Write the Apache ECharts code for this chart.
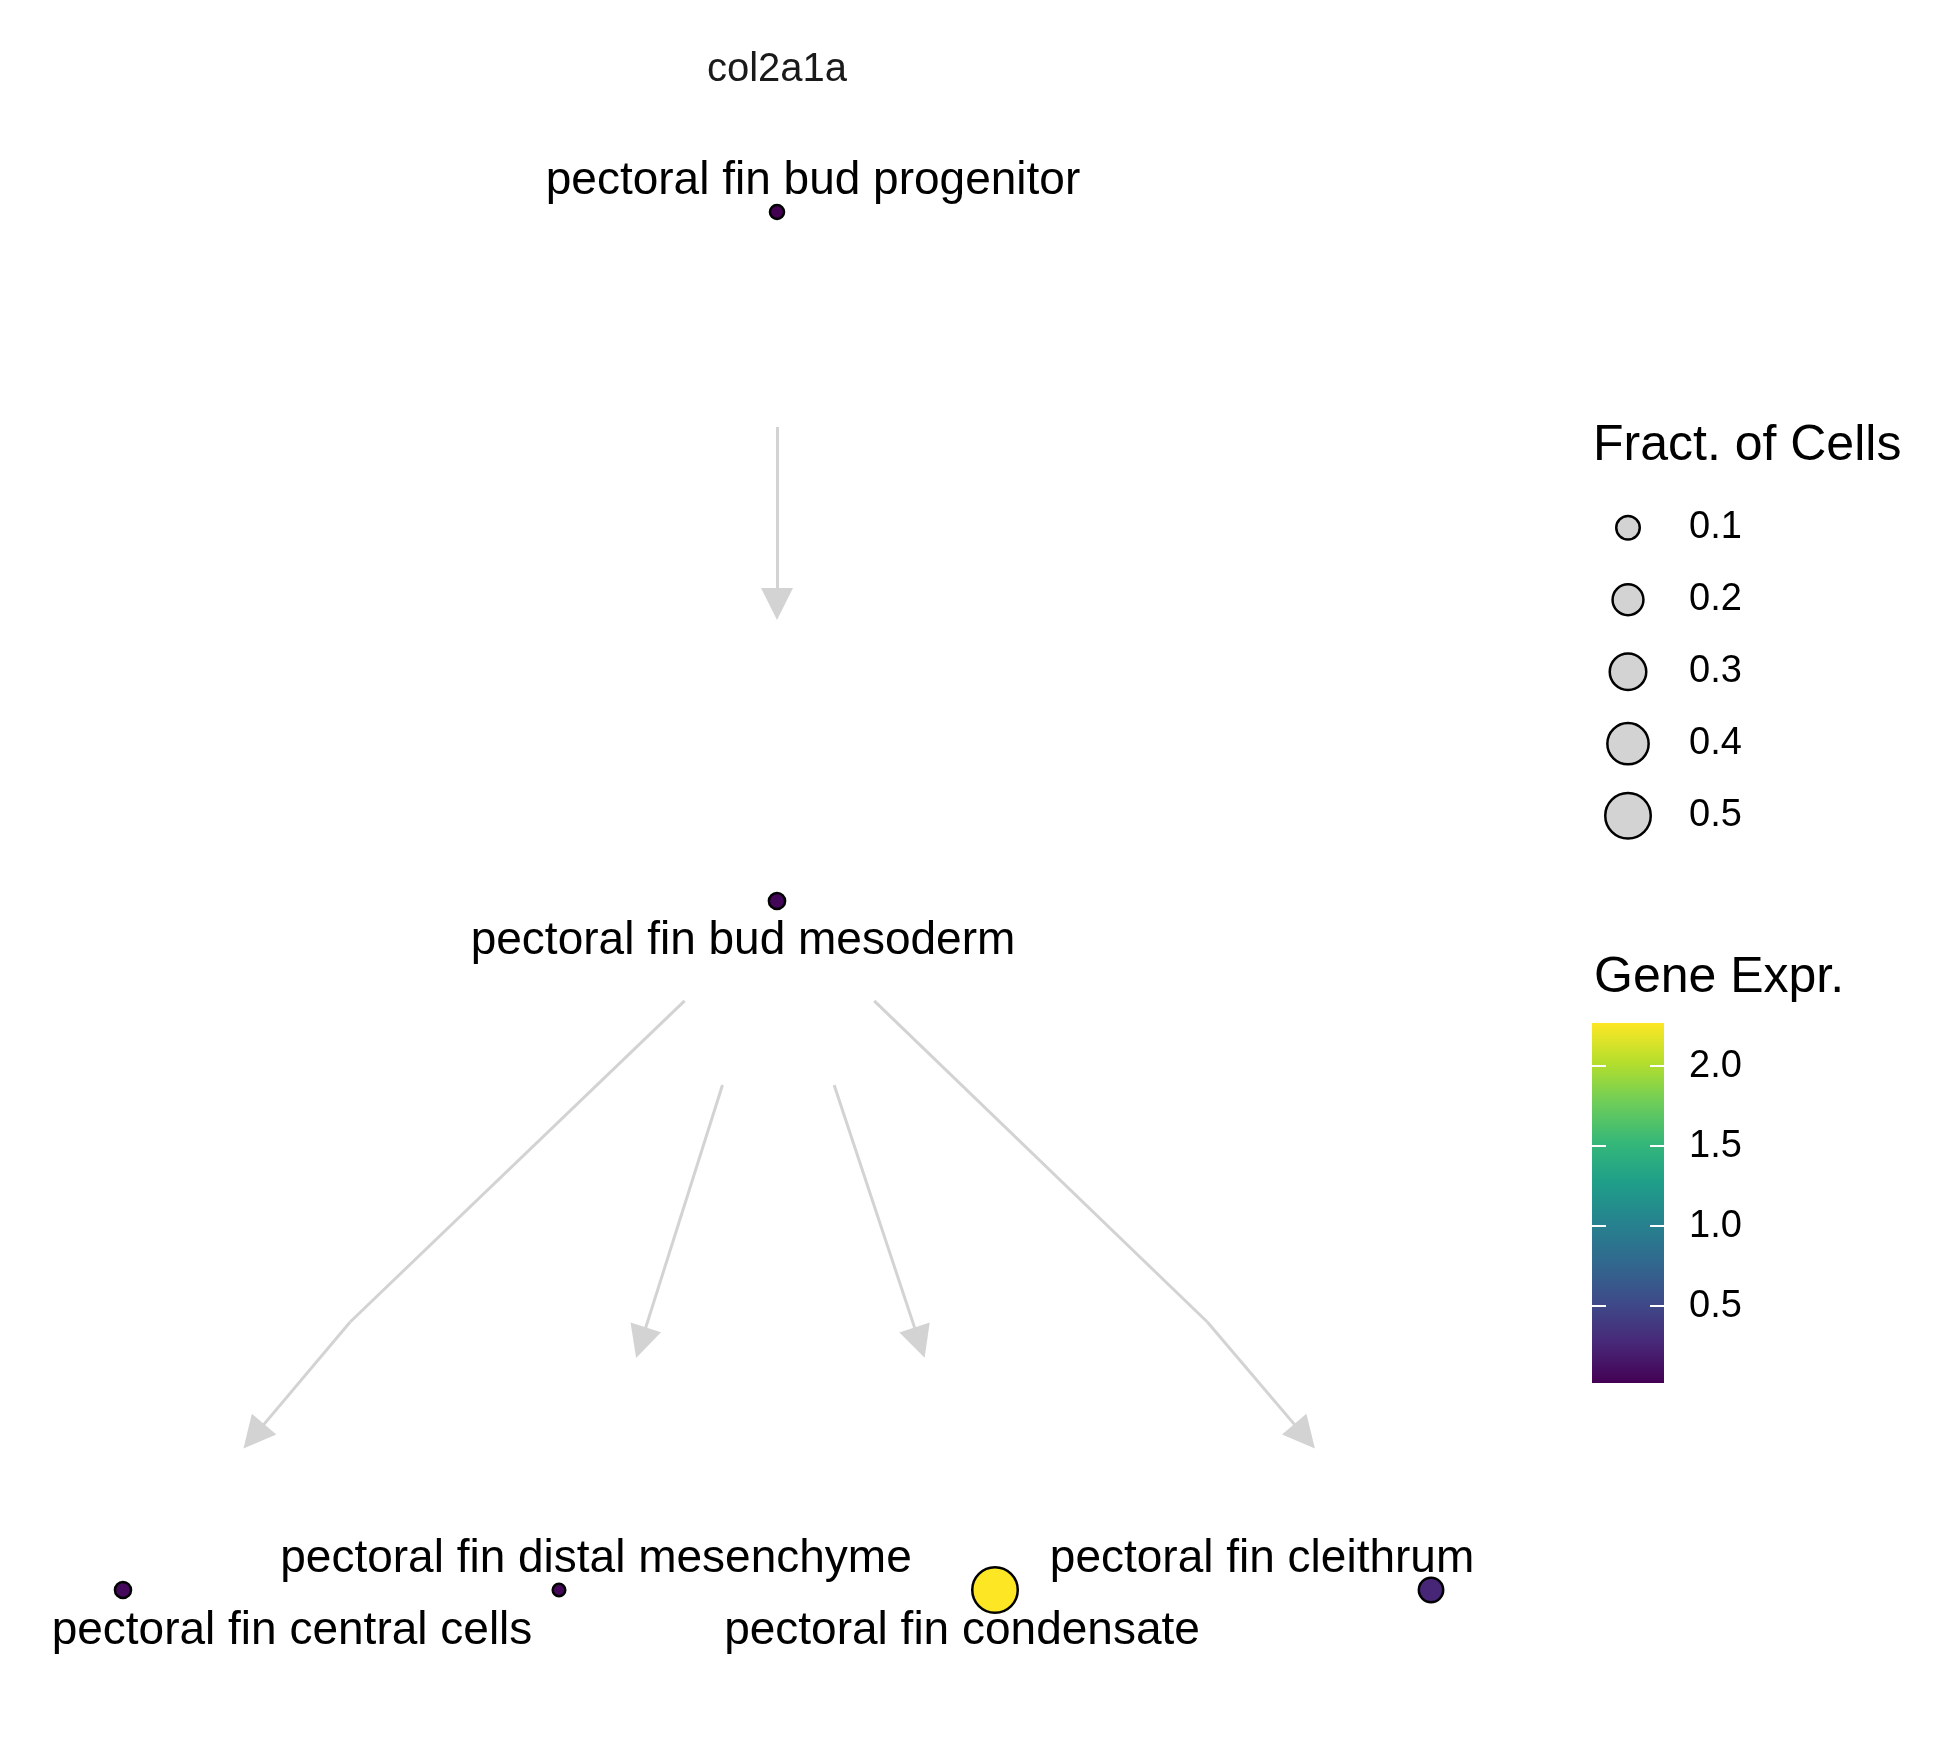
<!DOCTYPE html>
<html><head><meta charset="utf-8">
<script src="https://cdn.jsdelivr.net/npm/echarts@6/dist/echarts.min.js"></script>
<style>html,body{margin:0;padding:0;background:#fff}#c{width:1950px;height:1737px}</style>
</head><body><div id="c"></div>
<script>
// ---------- data ----------
const chartTitle = 'col2a1a';
const nodeNames = ['pectoral fin bud progenitor', 'pectoral fin bud mesoderm', 'pectoral fin central cells',
  'pectoral fin distal mesenchyme', 'pectoral fin condensate', 'pectoral fin cleithrum'];
const nodeX = [0, 0, -1.5, -0.5, 0.5, 1.5];      // tree layout position
const nodeY = [2, 1, 0, 0, 0, 0];                 // tree layout level
const fracCells = [0.022, 0.035, 0.034, 0.015, 0.50, 0.11];
const geneExpr = [0.02, 0.05, 0.07, 0.06, 2.27, 0.26];
// edge paths (layout units), last point = arrow head
const edgePaths = [
  [[0, 1.688], [0, 1.431]],
  [[-0.212, 0.855], [-0.979, 0.389], [-1.200, 0.223]],
  [[-0.125, 0.733], [-0.312, 0.359]],
  [[0.131, 0.733], [0.327, 0.359]],
  [[0.223, 0.855], [0.987, 0.389], [1.210, 0.223]]
];
const sizeLegendValues = [0.1, 0.2, 0.3, 0.4, 0.5];
const colorTicks = [0.5, 1.0, 1.5, 2.0];
const exprMin = 0.02, exprMax = 2.27;
const sizeTitle = 'Fract. of Cells';
const colorTitle = 'Gene Expr.';

// ---------- styles ----------
const labelOffsets = [[36, -31], [-34, 40], [169, 41], [37, -31], [-33, 41], [-169, -31]];
const viridis = ['#440154', '#482878', '#3E4A89', '#31688E', '#26828E', '#1F9E89', '#35B779', '#6DCD59', '#B4DE2C', '#FDE725'];
const FONT = 'Liberation Sans';
const BW = 2.5;
const sizeFn = f => 56.3 * Math.sqrt(f) + 8.2 - BW;

const lineData = [];
edgePaths.forEach(p => {
  for (let i = 0; i < p.length - 1; i++) {
    const last = i === p.length - 2;
    lineData.push({ coords: [p[i], p[i + 1]], symbol: last ? ['none', 'triangle'] : ['none', 'none'] });
  }
});

const nodeData = nodeNames.map((n, i) => ({
  name: n,
  value: [nodeX[i], nodeY[i], fracCells[i], geneExpr[i]],
  label: { offset: labelOffsets[i] }
}));

const chart = echarts.init(document.getElementById('c'), null, { renderer: 'canvas' });
chart.setOption({
  backgroundColor: '#fff',
  animation: false,
  textStyle: { fontFamily: FONT },
  title: [
    { text: chartTitle, left: 772, top: 45, textAlign: 'center',
      textStyle: { fontSize: 40, lineHeight: 40, fontWeight: 'normal', color: '#1a1a1a', fontFamily: FONT } },
    { text: sizeTitle, left: 1588, top: 416.5,
      textStyle: { fontSize: 50, lineHeight: 50, fontWeight: 'normal', color: '#000', fontFamily: FONT } },
    { text: colorTitle, left: 1589, top: 948.5,
      textStyle: { fontSize: 50, lineHeight: 50, fontWeight: 'normal', color: '#000', fontFamily: FONT } }
  ],
  grid: [
    { left: 0.9, top: 5.3, width: 1552.2, height: 1722.5 },
    { left: 1592, top: 1023, width: 72, height: 360 },
    { left: 1600, top: 491.7, width: 56, height: 360 }
  ],
  xAxis: [
    { gridIndex: 0, type: 'value', min: -1.78, max: 1.78, show: false },
    { gridIndex: 1, type: 'value', min: 0, max: 1, show: false },
    { gridIndex: 2, type: 'value', min: 0, max: 1, show: false }
  ],
  yAxis: [
    { gridIndex: 0, type: 'value', min: -0.2, max: 2.3, show: false },
    { gridIndex: 1, type: 'value', min: exprMin, max: exprMax, position: 'left', z: 10,
      axisLine: { show: false }, splitLine: { show: false }, axisLabel: { show: false },
      axisTick: { show: true, inside: true, length: 14, lineStyle: { color: '#fff', width: 2 }, customValues: colorTicks } },
    { gridIndex: 1, type: 'value', min: exprMin, max: exprMax, position: 'right', z: 10,
      axisLine: { show: false }, splitLine: { show: false },
      axisTick: { show: true, inside: true, length: 14, lineStyle: { color: '#fff', width: 2 }, customValues: colorTicks },
      axisLabel: { show: true, customValues: colorTicks, margin: 25, fontSize: 38, color: '#000', fontFamily: FONT,
        padding: [5, 0, 0, 0], formatter: v => Number(v).toFixed(1) } },
    { gridIndex: 2, type: 'category', data: sizeLegendValues.map(v => v.toFixed(1)), inverse: true, position: 'right',
      axisLine: { show: false }, axisTick: { show: false }, splitLine: { show: false },
      axisLabel: { margin: 33, fontSize: 38, color: '#000', fontFamily: FONT, align: 'left', padding: [5, 0, 0, 0] } }
  ],
  visualMap: {
    show: false, type: 'continuous', min: exprMin, max: exprMax, dimension: 3, seriesIndex: 1,
    inRange: { color: viridis }
  },
  series: [
    {
      type: 'lines', coordinateSystem: 'cartesian2d', xAxisIndex: 0, yAxisIndex: 0,
      data: lineData, symbolSize: 32, silent: true, z: 1,
      lineStyle: { color: '#d3d3d3', width: 3, opacity: 1 }
    },
    {
      type: 'scatter', xAxisIndex: 0, yAxisIndex: 0, data: nodeData, z: 5,
      symbol: 'circle', symbolSize: v => sizeFn(v[2]),
      itemStyle: { borderColor: '#000', borderWidth: BW, opacity: 1 },
      label: { show: true, position: 'inside', formatter: p => p.name, fontSize: 46, color: '#000',
        fontFamily: FONT, align: 'center', verticalAlign: 'middle' }
    },
    {
      type: 'custom', xAxisIndex: 1, yAxisIndex: 1, data: [[0]], silent: true, z: 1,
      renderItem: (params, api) => {
        const p0 = api.coord([0, exprMax]);
        const p1 = api.coord([1, exprMin]);
        return {
          type: 'rect',
          shape: { x: p0[0], y: p0[1], width: p1[0] - p0[0], height: p1[1] - p0[1] },
          style: { fill: new echarts.graphic.LinearGradient(0, 1, 0, 0,
            viridis.map((c, i) => ({ offset: i / (viridis.length - 1), color: c }))) }
        };
      }
    },
    {
      type: 'scatter', xAxisIndex: 2, yAxisIndex: 3, silent: true,
      data: sizeLegendValues.map(v => [0.5, v.toFixed(1), v]),
      symbol: 'circle', symbolSize: v => sizeFn(v[2]),
      itemStyle: { color: '#d3d3d3', borderColor: '#000', borderWidth: BW, opacity: 1 }
    }
  ]
});
</script>
</body></html>
